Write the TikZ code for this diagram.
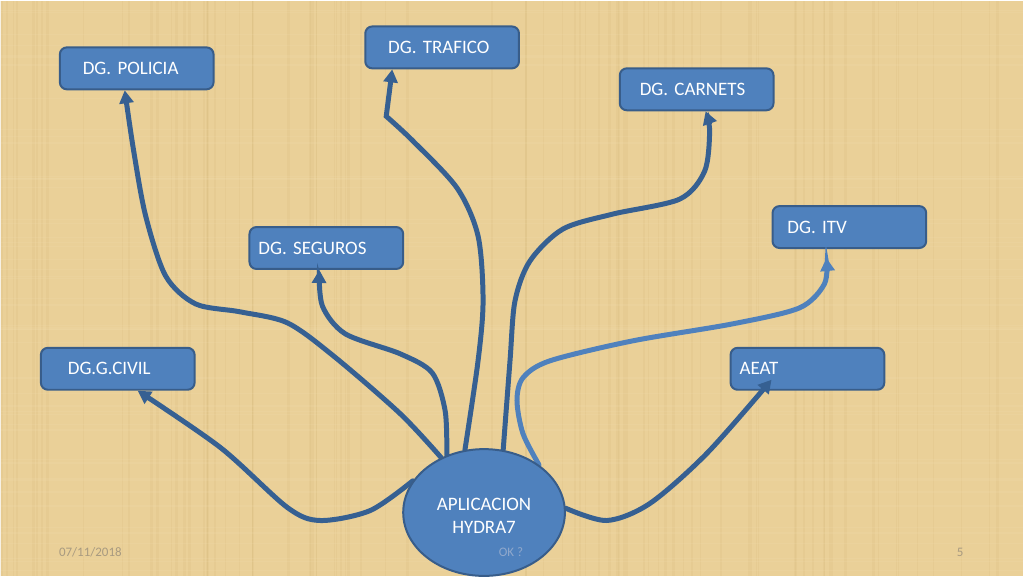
\documentclass[tikz,border=0pt]{standalone}
\usepackage{fontspec}
\setmainfont{Carlito}
\frenchspacing
\usetikzlibrary{arrows.meta,shapes.geometric}
\definecolor{parch}{RGB}{234,208,152}
\definecolor{parchdark}{RGB}{214,184,122}
\definecolor{parchlight}{RGB}{244,226,180}
\definecolor{boxfill}{RGB}{79,129,189}
\definecolor{boxline}{RGB}{56,93,138}
\definecolor{linkdark}{RGB}{54,96,146}
\definecolor{linklight}{RGB}{79,129,189}
\definecolor{footgray}{RGB}{168,154,128}
\definecolor{okgray}{RGB}{143,168,204}
\pgfdeclarelayer{bg}
\pgfdeclarelayer{links}
\pgfdeclarelayer{top}
\pgfsetlayers{bg,main,links,top}
\tikzset{
  dgbox/.style={draw=boxline, fill=boxfill, line width=2pt, rounded corners=7pt,
    minimum height=42pt, text=white, font=\fontsize{19}{23}\selectfont,
    align=left, inner ysep=0pt},
  appnode/.style={ellipse, draw=boxline, fill=boxfill, line width=2pt,
    minimum width=162pt, minimum height=127pt, inner sep=0pt},
  link/.style={draw=linkdark, line width=5pt, line cap=round,
    -{Triangle[length=13pt,width=14pt]}},
  linklt/.style={link, draw=linklight},
  foot/.style={text=footgray, font=\fontsize{13}{15}\selectfont, inner sep=0pt}
}
\begin{document}
\begin{tikzpicture}[x=1pt,y=-1pt]
\begin{pgfonlayer}{bg}
  \fill[parch] (0,0) rectangle (1024,576);
  \pgfmathsetseed{11}
  \foreach \i in {1,...,90}{
    \pgfmathsetmacro{\xx}{rnd*1024}
    \pgfmathsetmacro{\ww}{0.5+rnd*2.5}
    \draw[parchdark, opacity=0.2, line width=\ww pt] (\xx,0) -- (\xx,576);
  }
  \foreach \i in {1,...,50}{
    \pgfmathsetmacro{\yy}{rnd*576}
    \pgfmathsetmacro{\ww}{0.5+rnd*1.5}
    \draw[parchlight, opacity=0.15, line width=\ww pt] (0,\yy) -- (1024,\yy);
  }
\end{pgfonlayer}
\useasboundingbox (0,0) rectangle (1024,576);

\node[dgbox, inner xsep=23pt, text width=108pt] (policia) at (136,67) {DG. POLICIA};
\node[dgbox, inner xsep=23pt, text width=108pt] (trafico) at (442,46) {DG. TRAFICO};
\node[dgbox, inner xsep=20pt, text width=114pt] (carnets) at (697,88) {DG. CARNETS};
\node[dgbox, inner xsep=15pt, text width=124pt] (itv) at (850,226) {DG. ITV};
\node[dgbox, inner xsep=9pt, text width=136pt] (seguros) at (326,247) {DG. SEGUROS};
\node[dgbox, inner xsep=27pt, text width=100pt] (civil) at (117,368) {DG.G.CIVIL};
\node[dgbox, inner xsep=9pt, text width=136pt] (aeat) at (808,368) {AEAT};

\node[foot, anchor=west] (date) at (58,552) {07/11/2018};
\node[foot] (num) at (961,552) {5};

\begin{pgfonlayer}{top}
  \node[appnode] (app) at (484,512) {};
  \node[text=white, align=center, font=\fontsize{19}{23}\selectfont] (apptext) at (484,515) {APLICACION\\HYDRA7};
  \node[foot, text=okgray] (ok) at (511,552) {OK ?};
\end{pgfonlayer}

\begin{pgfonlayer}{links}
  \draw[link] plot[smooth] coordinates {(app.128) (400,413) (333,355) (287,322) (240,311) (195,303) (165,275) (145,215) (133,150) ([xshift=66pt]policia.south west)};
  \draw[link] plot[smooth] coordinates {(app.123) (445,410) (432,372) (400,353) (345,333) (322,305) ([xshift=71pt]seguros.south west)};
  \draw[link] plot[smooth] coordinates {(app.107) (478,360) (483,300) (478,235) (457,187) (413,140) (386,115)} -- ([xshift=28pt]trafico.south west);
  \draw[link] plot[smooth] coordinates {(app.73) (510,360) (515,300) (530,260) (563,228) (613,213) (680,198) (705,170) (710,130) ([xshift=87pt]carnets.south west)};
  \draw[linklt] plot[smooth] coordinates {(app.41) (523,433) (517,400) (523,377) (550,360) (633,340) (733,323) (800,307) (825,283) ([xshift=55pt,yshift=-9pt]itv.south west)};
  \draw[link] plot[smooth] coordinates {(app.3) (607,520) (650,503) (707,453) ([xshift=42pt,yshift=11pt]aeat.south west)};
  \draw[link] plot[smooth] coordinates {(app.156) (370,510) (320,520) (287,507) (220,447) ([xshift=98pt]civil.south west)};
\end{pgfonlayer}
\end{tikzpicture}
\end{document}
